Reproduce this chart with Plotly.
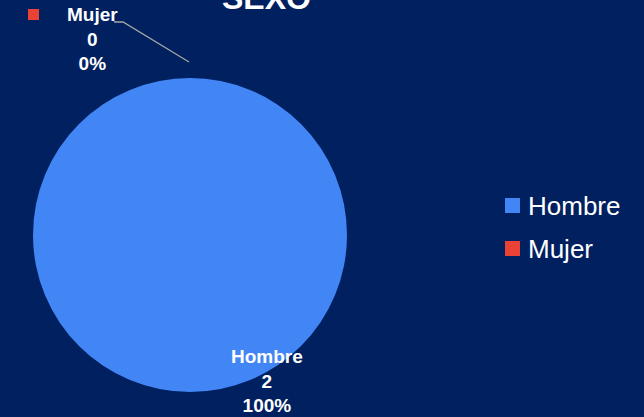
import plotly.graph_objects as go

# Data
categories = ["Hombre", "Mujer"]
values = [2, 0]
colors = ["#4285F4", "#EA4335"]
title_text = "SEXO"

W, H = 644, 417
BG = "#002060"

def px(x):
    return x / W

def py(y):
    return 1 - y / H

total = sum(values)
pcts = [f"{round(100 * v / total)}%" for v in values]

fig = go.Figure(go.Pie(
    labels=categories,
    values=values,
    marker=dict(colors=colors, line=dict(width=0)),
    textinfo="none",
    sort=False,
    direction="clockwise",
    rotation=90,
    showlegend=False,
    hoverinfo="label+value+percent",
    domain=dict(x=[px(33), px(347)], y=[py(392), py(78)]),
))

annotations = []
shapes = []

# Title (partly cut off at the top)
annotations.append(dict(
    text=f"<b>{title_text}</b>", x=px(266), y=py(-2), xref="paper", yref="paper",
    xanchor="center", yanchor="middle", showarrow=False,
    font=dict(family="Liberation Sans, Arial", size=32, color="white"),
))

# Data labels
label_pos = {"Hombre": (267, 381), "Mujer": (92, 39)}
for cat, v, p in zip(categories, values, pcts):
    x, y = label_pos[cat]
    annotations.append(dict(
        text=f"<b>{cat}<br>{v}<br>{p}</b>", x=px(x), y=py(y), xref="paper", yref="paper",
        xanchor="center", yanchor="middle", showarrow=False, align="center",
        font=dict(family="Liberation Sans, Arial", size=19, color="white"),
    ))

# Leader line for Mujer
shapes.append(dict(
    type="path", xref="paper", yref="paper",
    path=f"M {px(114)} {py(22)} L {px(123)} {py(22)} L {px(189)} {py(62)}",
    line=dict(color="#A6A6A6", width=1.3),
))
# Legend key next to Mujer label
shapes.append(dict(
    type="rect", xref="paper", yref="paper",
    x0=px(28), x1=px(39), y0=py(20), y1=py(9),
    fillcolor=colors[1], line=dict(width=0),
))

# Manual legend
leg_y = [206, 249]
for cat, col, yy in zip(categories, colors, leg_y):
    shapes.append(dict(
        type="rect", xref="paper", yref="paper",
        x0=px(505), x1=px(520), y0=py(yy + 7), y1=py(yy - 8),
        fillcolor=col, line=dict(width=0),
    ))
    annotations.append(dict(
        text=cat, x=px(526), y=py(yy), xref="paper", yref="paper",
        xanchor="left", yanchor="middle", showarrow=False,
        font=dict(family="Liberation Sans, Arial", size=26, color="white"),
    ))

fig.update_layout(
    width=W, height=H,
    margin=dict(l=0, r=0, t=0, b=0),
    paper_bgcolor=BG, plot_bgcolor=BG,
    showlegend=False,
    annotations=annotations,
    shapes=shapes,
)

fig.write_html(
    "out.html",
    config={"displayModeBar": False},
    post_script="document.body.style.margin='0';document.body.style.overflow='hidden';document.body.style.background='%s';" % BG,
)
